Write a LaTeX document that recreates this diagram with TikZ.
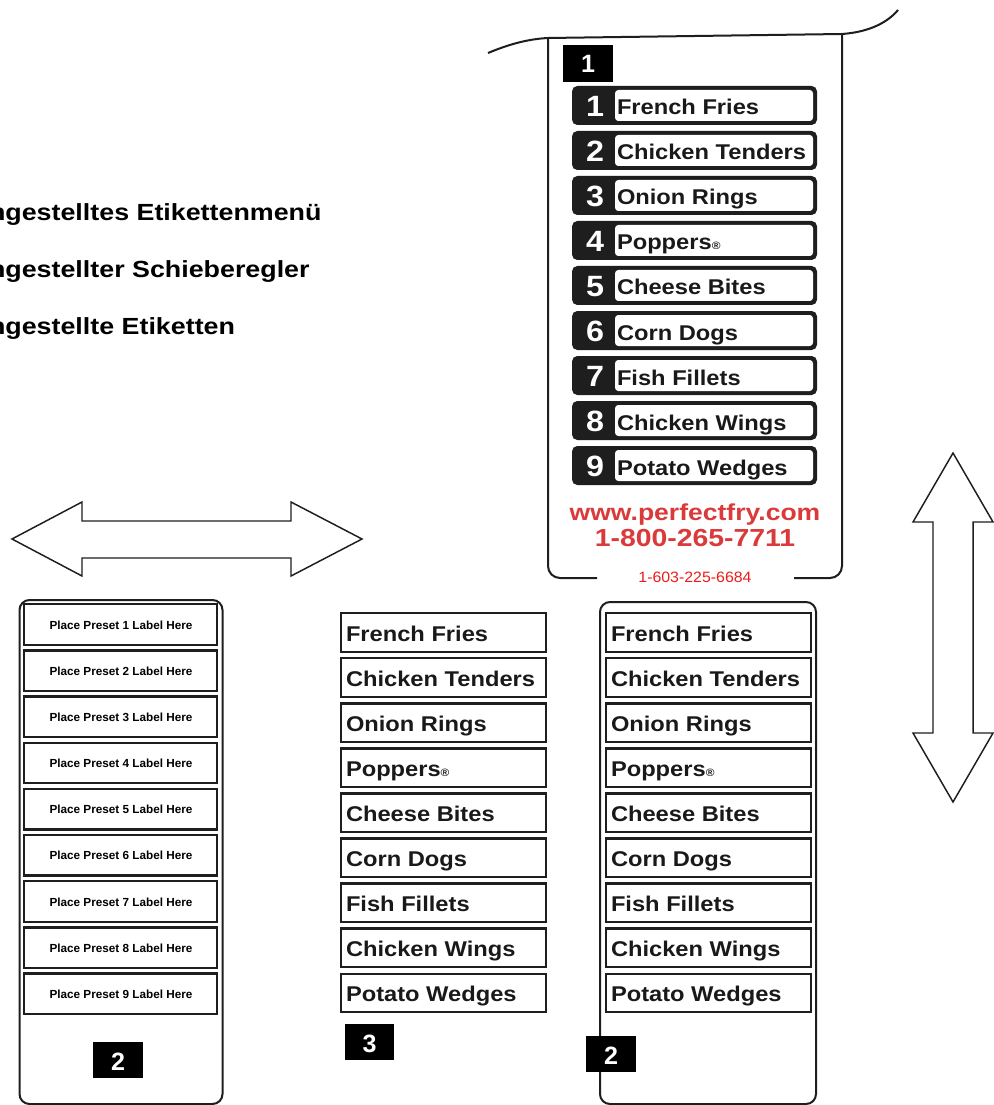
\documentclass[tikz,border=0pt]{standalone}
\usepackage{fontspec}
\setmainfont{Liberation Sans}
\newfontfamily\foodfont[FakeStretch=1.11]{Liberation Sans}
\newfontfamily\gerfont[FakeStretch=1.15]{Liberation Sans}
\newfontfamily\redfont[FakeStretch=1.15]{Liberation Sans}
\newfontfamily\telfont[FakeStretch=1.06]{Liberation Sans}
\newfontfamily\numfont[FakeStretch=1.1]{Liberation Sans}
\definecolor{ink}{RGB}{30,30,30}
\definecolor{webred}{RGB}{218,58,58}
\definecolor{telred}{RGB}{238,28,28}
\newcommand\poppersreg{Poppers{\fontsize{8}{8}\selectfont\textregistered}}
\begin{document}
\begin{tikzpicture}[x=0.75pt,y=-0.75pt,
  every node/.style={inner sep=0pt,outer sep=0pt},
  gertext/.style={anchor=base west,text=black,font=\gerfont\bfseries\fontsize{17.5}{17.5}\selectfont},
  cardline/.style={draw=ink,line width=1.5pt},
  menurow/.style={fill=ink,rounded corners=4pt,minimum width=183.75pt,minimum height=29.25pt},
  menuwhite/.style={fill=white,rounded corners=2.5pt,minimum width=148.5pt,minimum height=23.25pt},
  menunum/.style={anchor=base,text=white,font=\numfont\bfseries\fontsize{22}{22}\selectfont},
  foodtext/.style={anchor=base west,text=black!90,font=\foodfont\bfseries\fontsize{16}{16}\selectfont},
  badge/.style={fill=black,minimum width=37.5pt,minimum height=27pt},
  badgenum/.style={anchor=base,text=white,font=\bfseries\fontsize{18.8}{18.8}\selectfont},
  slider/.style={draw=ink,line width=1.5pt,rounded corners=7.5pt,fill=white},
  striprow/.style={draw=ink,line width=1.8pt,fill=white,minimum width=153.75pt,minimum height=28.9pt},
  presetrow/.style={draw=ink,line width=1.8pt,fill=white,minimum width=144.4pt,minimum height=30.4pt},
  presettext/.style={anchor=base,text=black,font=\bfseries\fontsize{8.8}{8.8}\selectfont},
  bigarrow/.style={draw=ink,line width=1.1pt,fill=white,line join=miter}
]
\useasboundingbox (0,0) rectangle (993,1105);
\fill[white] (0,0) rectangle (993,1105);

% German legend (cut off at the left)
\node[gertext] (g1) at (-11,221) {ngestelltes Etikettenmenü};
\node[gertext] (g2) at (-11,277.5) {ngestellter Schieberegler};
\node[gertext] (g3) at (-11,334) {ngestellte Etiketten};

% Menu card (1)
\draw[cardline] (488,53) .. controls (512,43) and (530,39) .. (548,38) -- (842,34) .. controls (870,32) and (888,22) .. (898,10);
\draw[cardline,rounded corners=9pt] (548,38) -- (548,578) -- (597,578);
\draw[cardline,rounded corners=9pt] (794,578) -- (842,578) -- (842,34);
\node[badge,minimum width=37.5pt,minimum height=27.75pt] (b1) at (588,63.5) {};
\node[badgenum] (b1n) at (588,73) {1};
\foreach \t [count=\i] in {French Fries,Chicken Tenders,Onion Rings,\poppersreg,Cheese Bites,Corn Dogs,Fish Fillets,Chicken Wings,Potato Wedges}{
  \pgfmathsetmacro\cy{105.5+45*(\i-1)}
  \node[menurow] (m\i) at (694.5,\cy) {};
  \node[menuwhite] (mw\i) at (714,\cy) {};
  \node[menunum] (mn\i) at (595,\cy+11.2) {\i};
  \node[foodtext] (mt\i) at (617,\cy+9.5) {\t};
}
\node[anchor=base,text=webred,font=\redfont\bfseries\fontsize{17.3}{17.3}\selectfont] (web) at (695,520) {www.perfectfry.com};
\node[anchor=base,text=webred,font=\redfont\bfseries\fontsize{18.5}{18.5}\selectfont] (tel) at (695,546) {1-800-265-7711};
\node[anchor=base,text=telred,font=\telfont\fontsize{11.25}{11.25}\selectfont] (tel2) at (695,582) {1-603-225-6684};

% Arrows
\draw[bigarrow] (12,539) -- (82,502) -- (82,521) -- (291,521) -- (291,502) -- (362,539) -- (291,576) -- (291,558) -- (82,558) -- (82,576) -- cycle;
\draw[bigarrow] (953,453) -- (993,522) -- (973,522) -- (973,733) -- (993,733) -- (953,802) -- (913,733) -- (933,733) -- (933,522) -- (913,522) -- cycle;

% Left slider (2) with preset placeholders
\node[slider,minimum width=152.25pt,minimum height=378pt] (lslider) at (121,852) {};
\foreach \i in {1,...,9}{
  \pgfmathsetmacro\cy{624.5+46.17*(\i-1)}
  \node[presetrow] (p\i) at (120.5,\cy) {};
  \node[presettext] (pt\i) at (121,\cy+4.6) {Place Preset \i\ Label Here};
}
\node[badge] (b2l) at (118,1060) {};
\node[badgenum] (b2ln) at (118,1070) {2};

% Middle label strip (3)
\foreach \t [count=\i] in {French Fries,Chicken Tenders,Onion Rings,\poppersreg,Cheese Bites,Corn Dogs,Fish Fillets,Chicken Wings,Potato Wedges}{
  \pgfmathsetmacro\cy{632.5+45.06*(\i-1)}
  \node[striprow] (s\i) at (443.25,\cy) {};
  \node[foodtext] (st\i) at (346,\cy+8.5) {\t};
}
\node[badge,minimum width=36.75pt] (b3) at (369.5,1042) {};
\node[badgenum] (b3n) at (369.5,1052) {3};

% Right slider (2) with labels
\node[slider,minimum width=162pt,minimum height=376.5pt] (rslider) at (708,853) {};
\foreach \t [count=\i] in {French Fries,Chicken Tenders,Onion Rings,\poppersreg,Cheese Bites,Corn Dogs,Fish Fillets,Chicken Wings,Potato Wedges}{
  \pgfmathsetmacro\cy{632.5+45.06*(\i-1)}
  \node[striprow] (r\i) at (708.25,\cy) {};
  \node[foodtext] (rt\i) at (611,\cy+8.5) {\t};
}
\node[badge] (b2r) at (611,1054) {};
\node[badgenum] (b2rn) at (611,1064) {2};
\end{tikzpicture}
\end{document}
